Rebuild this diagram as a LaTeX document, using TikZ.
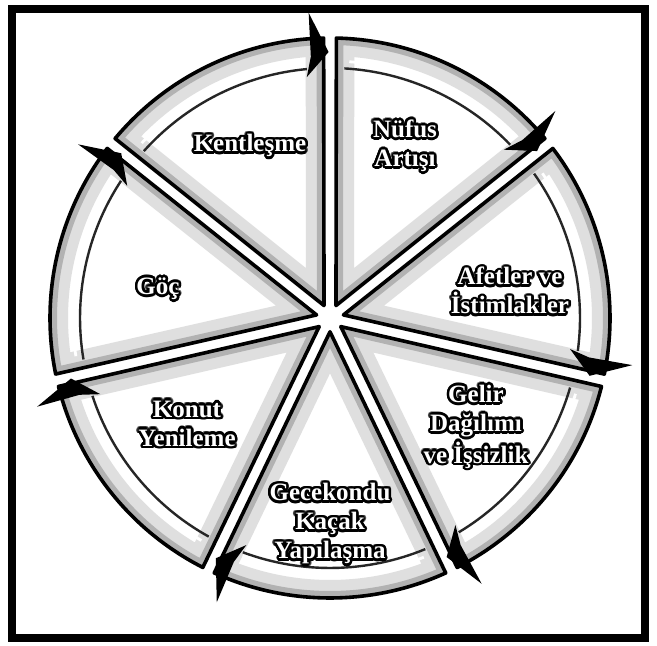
\documentclass[tikz,border=0pt]{standalone}
\usepackage{fontspec}
\setmainfont{Liberation Serif}
\usepackage{contour}
\usetikzlibrary{calc}
\contourlength{1.3pt}
\newcommand{\halo}[1]{\contour{black}{#1}}

\tikzset{
  frame/.style={draw=black,line width=4pt},
  wedgeedge/.style={draw=black,line width=1.8pt,line join=round},
  rimline/.style={draw=black!85,line width=1.2pt},
  rimglint/.style={draw=white,line width=1.4pt},
  tiphead/.style={fill=black},
  seclabel/.style={text=white,align=center,
    font=\bfseries\fontsize{12.5}{14.5}\selectfont},
}

\begin{document}
\begin{tikzpicture}[x=0.5pt,y=0.5pt]
  \useasboundingbox (0,0) rectangle (657,646);
  \draw[frame] (12,8) rectangle (645,637);
  \coordinate (C) at (330,328);
  % seven sectors, clockwise from Kentlesme
  \foreach \k in {0,...,6}{
    \pgfmathsetmacro\s{141.43-51.43*\k}
    \pgfmathsetmacro\e{\s-51.43}
    \pgfmathsetmacro\m{\s-25.715}
    \pgfmathsetmacro\a{\s-1.3}
    \pgfmathsetmacro\b{\e+1.3}
    \begin{scope}
      \clip ($(C)+(\m:13.8)$) -- ($(C)+(\a:280)$)
        arc[start angle=\a,end angle=\b,radius=280] -- cycle;
      \fill[white] (C) circle[radius=300];
      \draw[gray!25,line width=18pt] ($(C)+(\m:13.8)$) -- ($(C)+(\a:280)$)
        arc[start angle=\a,end angle=\b,radius=280] -- cycle;
      \draw[gray!60,line width=7pt] ($(C)+(\m:13.8)$) -- ($(C)+(\a:280)$)
        arc[start angle=\a,end angle=\b,radius=280] -- cycle;
    \end{scope}
    \draw[wedgeedge] ($(C)+(\m:13.8)$) -- ($(C)+(\a:280)$)
      arc[start angle=\a,end angle=\b,radius=280] -- cycle;
    % rim band and its arrow head
    \draw[rimline] ($(C)+(\a-2:250)$)
      arc[start angle=\a-2,end angle=\b+4,radius=250];
    \draw[rimglint] ($(C)+(\a-3:257)$)
      arc[start angle=\a-3,end angle=\b+5,radius=257];
    \fill[tiphead] ($(C)+(\e+4:306)$) -- ($(C)+(\e+0.3:266)$)
      -- ($(C)+(\e+5.5:242)$) -- ($(C)+(\e+4.2:262)$) -- cycle;
  }
  % labels
  \node[seclabel] (kent) at (250,499) {\halo{Kentleşme}};
  \node[seclabel] (nufus) at (405,499) {\halo{Nüfus}\\\halo{Artışı}};
  \node[seclabel] (afet) at (510,354) {\halo{Afetler ve}\\\halo{İstimlakler}};
  \node[seclabel] (gelir) at (476,218) {\halo{Gelir}\\\halo{Dağılımı}\\\halo{ve İşsizlik}};
  \node[seclabel] (gece) at (330,121) {\halo{Gecekondu}\\\halo{Kaçak}\\\halo{Yapılaşma}};
  \node[seclabel] (konut) at (187,221) {\halo{Konut}\\\halo{Yenileme}};
  \node[seclabel] (goc) at (158,356) {\halo{Göç}};
\end{tikzpicture}
\end{document}
